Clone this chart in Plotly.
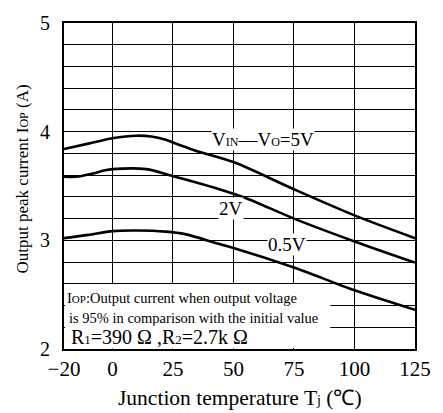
import plotly.graph_objects as go

# Data
t_5v = [-20, -10, 0, 10, 16, 22, 28, 35, 50, 75, 100, 125]
i_5v = [3.84, 3.89, 3.94, 3.963, 3.955, 3.925, 3.875, 3.82, 3.72, 3.47, 3.23, 3.02]

t_2v = [-20, -14, -8, -3, 0, 14, 25, 35, 43.5, 55, 75, 100, 125]
i_2v = [3.585, 3.587, 3.615, 3.645, 3.655, 3.655, 3.59, 3.53, 3.475, 3.39, 3.20, 2.99, 2.795]

t_05v = [-20, -10, 0, 10, 22, 30, 43.5, 50, 75, 100, 125]
i_05v = [3.02, 3.05, 3.085, 3.09, 3.08, 3.057, 2.97, 2.93, 2.75, 2.54, 2.36]

x_ticks = [-20, 0, 25, 50, 75, 100, 125]
x_ticktext = ["\u221220", "0", "25", "50", "75", "100", "125"]
y_ticks = [round(2 + 0.2 * k, 1) for k in range(16)]
y_ticktext = [str(int(v)) if abs(v - round(v)) < 1e-9 else "" for v in y_ticks]

FONT = "Liberation Serif, Times New Roman, serif"

fig = go.Figure()
for xs, ys in [(t_5v, i_5v), (t_2v, i_2v), (t_05v, i_05v)]:
    fig.add_trace(go.Scatter(x=xs, y=ys, mode="lines",
                             line=dict(color="black", width=2.6, shape="spline", smoothing=0.8),
                             showlegend=False, hoverinfo="skip"))

fig.update_layout(
    width=443, height=413,
    margin=dict(l=64, r=24, t=14, b=64),
    paper_bgcolor="white", plot_bgcolor="white",
    font=dict(family=FONT, color="black", size=19),
    showlegend=False,
)
fig.update_xaxes(range=[-20, 125], tickvals=x_ticks, ticktext=x_ticktext,
                 showgrid=True, gridcolor="black", gridwidth=1,
                 showline=True, linecolor="black", linewidth=2, mirror=True,
                 ticks="", tickfont=dict(size=21), zeroline=False)
fig.update_yaxes(range=[2, 5], tickvals=y_ticks, ticktext=y_ticktext,
                 showgrid=True, gridcolor="black", gridwidth=1,
                 showline=True, linecolor="black", linewidth=2, mirror=True,
                 ticks="", tickfont=dict(size=20), ticklabelstandoff=8, zeroline=False)

# white box for the note
fig.add_shape(type="rect", xref="x", yref="y", x0=-19.6, x1=90, y0=2.01, y1=2.595,
              fillcolor="white", line=dict(width=0), layer="above")

small = "font-size:11px"
notes = [
    (2.467, f"I<span style='{small}'>OP</span>:Output current when output voltage", 14.5, -19.3),
    (2.288, "is 95% in comparison with the initial value", 14.5, -18.2),
    (2.109, f"R<span style='font-size:13px'>1</span>=390 \u03a9 ,R<span style='font-size:13px'>2</span>=2.7k \u03a9", 20, -17.6),
]
for yv, txt, sz, xv in notes:
    fig.add_annotation(x=xv, y=yv, xref="x", yref="y", text=txt, showarrow=False,
                       xanchor="left", yanchor="middle", font=dict(size=sz), bgcolor="white",
                       borderpad=0)

# curve labels
sm = "font-size:12px"
fig.add_annotation(x=62.3, y=3.93, text=f"V<span style='{sm}'>IN</span>\u2014V<span style='{sm}'>O</span>=5V",
                   showarrow=False, font=dict(size=19), bgcolor="white", borderpad=0)
fig.add_annotation(x=49, y=3.29, text="2V", showarrow=False, font=dict(size=19),
                   bgcolor="white", borderpad=0)
fig.add_annotation(x=72.3, y=2.96, text="0.5V", showarrow=False, font=dict(size=19),
                   bgcolor="white", borderpad=0)

# axis titles
fig.add_annotation(x=0.5, y=0, xref="paper", yref="paper", yshift=-49,
                   text="Junction temperature T<span style='font-size:14px'>j</span> (\u2103)",
                   showarrow=False, font=dict(size=21.5), yanchor="middle")
fig.add_annotation(x=0, y=0.52, xref="paper", yref="paper", xshift=-42, textangle=-90,
                   text="Output peak current I<span style='font-size:12px'>OP</span> (A)",
                   showarrow=False, font=dict(size=17), xanchor="center", yanchor="middle")

fig.write_html("out.html")
